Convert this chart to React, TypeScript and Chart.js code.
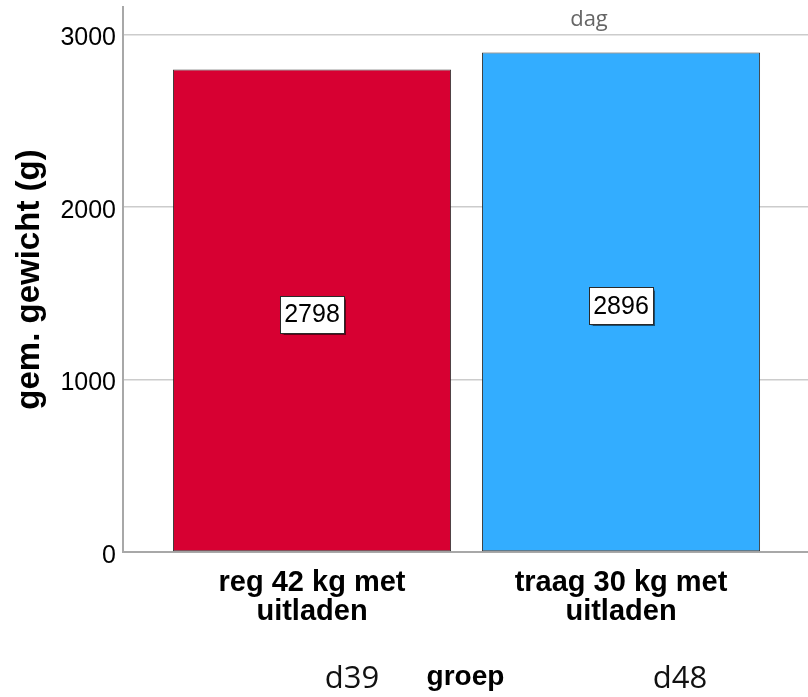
import React, { useEffect, useRef } from 'react';
import { Chart, registerables } from 'chart.js';

Chart.register(...registerables);

const categories: string[][] = [
  ['reg 42 kg met', 'uitladen'],
  ['traag 30 kg met', 'uitladen'],
];
const values: number[] = [2798, 2896];
const barColors: string[] = ['#d70032', '#33adff'];
const yTicks: number[] = [0, 1000, 2000, 3000];
const yAxisTitle = 'gem. gewicht (g)';
const xAxisTitle = 'groep';
const panelTitle = 'dag';
const panelLabels: string[] = ['d39', 'd48'];

const SANS = '"Liberation Sans", Arial, sans-serif';
const CAL = '"Open Sans", "Noto Sans", sans-serif';

export default function App() {
  const ref = useRef<HTMLCanvasElement>(null);

  useEffect(() => {
    if (!ref.current) return;

    const labelPlugin = {
      id: 'boxLabels',
      afterDatasetsDraw(chart: any) {
        const ctx = chart.ctx as CanvasRenderingContext2D;
        const meta = chart.getDatasetMeta(0);
        ctx.save();
        ctx.font = `25px ${SANS}`;
        ctx.textAlign = 'center';
        ctx.textBaseline = 'middle';
        meta.data.forEach((bar: any, i: number) => {
          const text = String(values[i]);
          const cx = bar.x;
          const cy = (bar.y + bar.base) / 2 + 4;
          const w = Math.round(ctx.measureText(text).width + 8);
          const h = 37;
          const x0 = Math.round(cx - w / 2) + 0.5;
          const y0 = Math.round(cy - h / 2) + 0.5;
          ctx.save();
          ctx.shadowColor = 'rgba(0,0,0,0.55)';
          ctx.shadowOffsetX = 1;
          ctx.shadowOffsetY = 1;
          ctx.shadowBlur = 1;
          ctx.fillStyle = '#ffffff';
          ctx.fillRect(x0, y0, w, h);
          ctx.restore();
          ctx.strokeStyle = '#2a2a2a';
          ctx.lineWidth = 1;
          ctx.strokeRect(x0, y0, w, h);
          ctx.fillStyle = '#000000';
          ctx.fillText(text, cx, cy + 1);
        });
        ctx.restore();
      },
      afterDraw(chart: any) {
        const ctx = chart.ctx as CanvasRenderingContext2D;
        ctx.save();
        ctx.textAlign = 'center';
        ctx.textBaseline = 'alphabetic';
        ctx.font = `22px ${CAL}`;
        ctx.fillStyle = '#666666';
        ctx.fillText(panelTitle, 589, 26);
        ctx.font = `31px ${CAL}`;
        ctx.fillStyle = '#111111';
        ctx.fillText(panelLabels[0], 352, 688);
        ctx.fillText(panelLabels[1], 680, 688);
        ctx.restore();
      },
    };

    const chart = new Chart(ref.current, {
      type: 'bar',
      data: {
        datasets: [
          {
            data: values.map((v, i) => ({ x: i + 1, y: v })),
            backgroundColor: barColors,
            borderColor: 'rgba(35,35,35,0.9)',
            borderWidth: 1,
            borderSkipped: false,
            categoryPercentage: 1,
            barPercentage: 0.9,
          },
        ],
      },
      options: {
        animation: false,
        responsive: false,
        maintainAspectRatio: false,
        layout: { padding: { top: 7, left: 0, right: 0, bottom: 0 } },
        plugins: {
          legend: { display: false },
          tooltip: { enabled: false },
          title: { display: false },
        },
        scales: {
          x: {
            type: 'linear',
            offset: false,
            min: 0.3883,
            max: 2.6051,
            afterBuildTicks: (s: any) => {
              s.ticks = categories.map((_, i) => ({ value: i + 1 }));
            },
            afterFit: (s: any) => {
              s.height = 145;
              s.paddingLeft = 0;
              s.paddingRight = 0;
            },
            grid: { display: false, drawTicks: false, offset: false },
            border: { display: true, color: '#a8a8a8', width: 2 },
            ticks: {
              autoSkip: false,
              maxRotation: 0,
              minRotation: 0,
              padding: 16,
              color: '#000000',
              font: { family: SANS, size: 29, weight: 'bold', lineHeight: 1.0 },
              callback: (v: any) => categories[Math.round(Number(v)) - 1] as any,
            },
            title: {
              display: true,
              text: xAxisTitle,
              color: '#000000',
              font: { family: SANS, size: 28, weight: 'bold' },
              padding: { top: 0, bottom: 3 },
            },
          },
          y: {
            min: 0,
            max: 3160,
            afterBuildTicks: (s: any) => {
              s.ticks = yTicks.map((v) => ({ value: v }));
            },
            afterFit: (s: any) => {
              s.width = 123;
              s.paddingTop = 0;
              s.paddingBottom = 0;
            },
            grid: { color: '#cccccc', lineWidth: 1.5, drawTicks: false },
            border: { display: true, color: '#a8a8a8', width: 2 },
            ticks: {
              padding: 7,
              labelOffset: 4,
              color: '#000000',
              font: { family: SANS, size: 25 },
              callback: (v: any) => String(v),
            },
            title: {
              display: true,
              text: yAxisTitle,
              color: '#000000',
              font: { family: SANS, size: 33, weight: 'bold' },
              padding: { top: 10, bottom: 0 },
            },
          },
        },
      },
      plugins: [labelPlugin],
    } as any);

    return () => chart.destroy();
  }, []);

  return (
    <div style={{ position: 'absolute', left: 0, top: 0, width: 808, height: 697, background: '#ffffff' }}>
      <canvas ref={ref} width={808} height={697} style={{ display: 'block', width: 808, height: 697 }} />
    </div>
  );
}
